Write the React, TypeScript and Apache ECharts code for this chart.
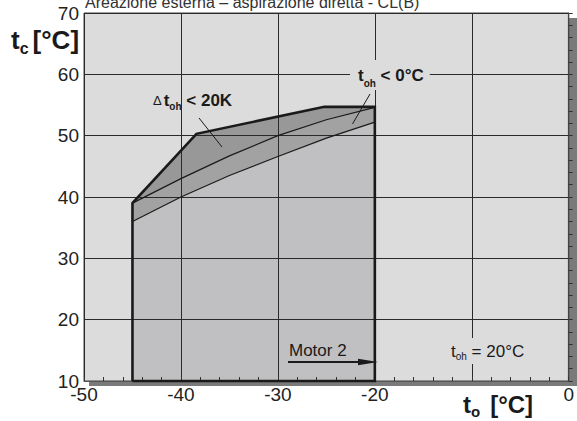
import React, { useEffect, useRef } from 'react';
import * as echarts from 'echarts';

const FONT = "'Liberation Sans', Arial, Helvetica, sans-serif";

const xRange = [-50, 0];
const yRange = [10, 70];
const hiddenXLabels = [-10];

const envelope = [
  [-45, 10], [-45, 39], [-38.4, 50.3], [-25.2, 54.7], [-20, 54.7], [-20, 10],
];
const topEdge = [[-45, 39], [-38.4, 50.3], [-25.2, 54.7], [-20, 54.7]];
const middleCurve = [[-45, 39], [-40, 43], [-35, 46.7], [-30, 50], [-25, 52.6], [-20, 54.6]];
const lowerCurve = [[-45, 36], [-40, 40], [-35, 43.5], [-30, 46.6], [-25, 49.6], [-20, 52.2]];

const titleText = 'Areazione esterna – aspirazione diretta - CL(B)';

function polySeries(pts: number[][], fill: string, z: number) {
  return {
    type: 'custom',
    z,
    silent: true,
    clip: true,
    data: pts,
    encode: { x: 0, y: 1 },
    renderItem: (params: any, api: any) => {
      if (params.dataIndex !== 0) return null;
      const points = pts.map((p) => api.coord(p));
      return { type: 'polygon', shape: { points }, style: { fill, stroke: 'none' } };
    },
  };
}

function lineSeries(pts: number[][], width: number, z: number) {
  return {
    type: 'line',
    z,
    silent: true,
    clip: false,
    data: pts,
    showSymbol: false,
    symbol: 'none',
    lineStyle: { color: '#1a1a1a', width, join: 'miter' },
  };
}

export default function App() {
  const ref = useRef<HTMLDivElement>(null);
  useEffect(() => {
    document.body.style.margin = '0';
    const chart = echarts.init(ref.current!, undefined, { renderer: 'svg' });
    const upperRegion = [...topEdge, ...[...middleCurve].reverse()];
    const band = [...middleCurve, ...[...lowerCurve].reverse()];
    const outline = [...envelope, envelope[0]];
    chart.setOption({
      animation: false,
      grid: {
        left: 84, right: 2.5, top: 13, bottom: 40,
        show: true, backgroundColor: '#dcdcdc', borderColor: '#444', borderWidth: 1,
      },
      xAxis: {
        type: 'value', min: xRange[0], max: xRange[1], interval: 10, z: 3,
        axisLine: { show: true, lineStyle: { color: '#555', width: 1 } },
        axisTick: { show: true, inside: true, length: 4, lineStyle: { color: '#333' } },
        minorTick: { show: true, splitNumber: 5, length: 4, lineStyle: { color: '#333' } },
        splitLine: { show: true, lineStyle: { color: '#2a2a2a', width: 1 } },
        axisLabel: {
          margin: 7, fontSize: 19, lineHeight: 13, color: '#222', fontFamily: FONT,
          showMaxLabel: true, showMinLabel: true,
          formatter: (v: number) => (hiddenXLabels.includes(v) ? '' : String(v)),
        },
      },
      yAxis: {
        type: 'value', min: yRange[0], max: yRange[1], interval: 10, z: 3,
        axisLine: { show: true, lineStyle: { color: '#444', width: 1.2 } },
        axisTick: { show: true, inside: true, length: 4, lineStyle: { color: '#333' } },
        minorTick: { show: true, splitNumber: 5, length: 4, lineStyle: { color: '#333' } },
        splitLine: { show: true, lineStyle: { color: '#2a2a2a', width: 1 } },
        axisLabel: { margin: 5, fontSize: 19, lineHeight: 13, color: '#222', fontFamily: FONT },
      },
      series: [
        polySeries(envelope, '#c0c0c2', 1),
        polySeries(band, '#a2a2a2', 1),
        polySeries(upperRegion, '#989898', 1),
        lineSeries(middleCurve, 1.2, 5),
        lineSeries(lowerCurve, 1.2, 5),
        lineSeries(outline, 2.6, 6),
      ],
      graphic: [
        { type: 'rect', z: -10, shape: { x: 89, y: 18, width: 490, height: 368 }, style: { fill: '#7a7a7a' } },
        {
          type: 'text', z: 10, x: 85, y: 10,
          style: { text: titleText, fontSize: 16, fontFamily: FONT, fill: '#333', verticalAlign: 'bottom', align: 'left' },
        },
        {
          type: 'text', z: 10, x: 11, y: 24,
          style: {
            text: '{t|t}{s|c}{u|[°C]}', fontFamily: FONT, fill: '#1a1a1a', align: 'left', verticalAlign: 'top',
            rich: {
              t: { fontSize: 26, fontWeight: 'bold', lineHeight: 32, fontFamily: FONT, fill: '#1a1a1a' },
              s: { fontSize: 16, fontWeight: 'bold', lineHeight: 16, verticalAlign: 'bottom', fontFamily: FONT, fill: '#1a1a1a' },
              u: { fontSize: 26, fontWeight: 'bold', lineHeight: 32, padding: [0, 0, 0, 4], fontFamily: FONT, fill: '#1a1a1a' },
            },
          },
        },
        {
          type: 'text', z: 10, x: 463, y: 389,
          style: {
            text: '{t|t}{s|o}{u|[°C]}', fontFamily: FONT, fill: '#1a1a1a', align: 'left', verticalAlign: 'top',
            rich: {
              t: { fontSize: 24, fontWeight: 'bold', lineHeight: 30, fontFamily: FONT, fill: '#1a1a1a' },
              s: { fontSize: 15, fontWeight: 'bold', lineHeight: 15, verticalAlign: 'bottom', fontFamily: FONT, fill: '#1a1a1a' },
              u: { fontSize: 24, fontWeight: 'bold', lineHeight: 30, padding: [0, 0, 0, 10], fontFamily: FONT, fill: '#1a1a1a' },
            },
          },
        },
        {
          type: 'text', z: 10, x: 153, y: 89,
          style: {
            text: '{d|Δ}{t|t}{s|oh}{m| < 20K}', fontFamily: FONT, align: 'left', verticalAlign: 'top',
            rich: {
              d: { fontSize: 13, lineHeight: 22, padding: [0, 2, 0, 0], fontFamily: FONT, fill: '#1a1a1a' },
              t: { fontSize: 17, fontWeight: 'bold', lineHeight: 22, fontFamily: FONT, fill: '#1a1a1a' },
              s: { fontSize: 10, fontWeight: 'bold', lineHeight: 10, verticalAlign: 'bottom', fontFamily: FONT, fill: '#1a1a1a' },
              m: { fontSize: 17, fontWeight: 'bold', lineHeight: 22, fontFamily: FONT, fill: '#1a1a1a' },
            },
          },
        },
        {
          type: 'text', z: 10, x: 350, y: 60,
          style: {
            text: '{t|t}{s|oh}{m| < 0°C}', fontFamily: FONT, align: 'left', verticalAlign: 'top',
            backgroundColor: '#dcdcdc', padding: [2, 6, 2, 8],
            rich: {
              t: { fontSize: 17, fontWeight: 'bold', lineHeight: 26, fontFamily: FONT, fill: '#1a1a1a' },
              s: { fontSize: 10, fontWeight: 'bold', lineHeight: 10, verticalAlign: 'bottom', fontFamily: FONT, fill: '#1a1a1a' },
              m: { fontSize: 17, fontWeight: 'bold', lineHeight: 26, fontFamily: FONT, fill: '#1a1a1a' },
            },
          },
        },
        {
          type: 'text', z: 10, x: 447, y: 338,
          style: {
            text: '{t|t}{s|oh}{m| = 20°C}', fontFamily: FONT, align: 'left', verticalAlign: 'top',
            backgroundColor: '#dcdcdc', padding: [3, 4, 3, 4],
            rich: {
              t: { fontSize: 17, lineHeight: 20, fontFamily: FONT, fill: '#1a1a1a' },
              s: { fontSize: 10, lineHeight: 10, verticalAlign: 'bottom', fontFamily: FONT, fill: '#1a1a1a' },
              m: { fontSize: 17, lineHeight: 20, fontFamily: FONT, fill: '#1a1a1a' },
            },
          },
        },
        {
          type: 'text', z: 10, x: 289, y: 350,
          style: { text: 'Motor 2', fontSize: 17, fontFamily: FONT, fill: '#1a1a1a', align: 'left', verticalAlign: 'middle' },
        },
        { type: 'line', z: 10, shape: { x1: 288, y1: 362, x2: 362, y2: 362 }, style: { stroke: '#1a1a1a', lineWidth: 2 } },
        { type: 'polygon', z: 10, shape: { points: [[358, 358.8], [378, 362], [358, 365.2]] }, style: { fill: '#1a1a1a' } },
        { type: 'line', z: 10, shape: { x1: 199, y1: 118, x2: 222, y2: 147 }, style: { stroke: '#1a1a1a', lineWidth: 1 } },
        { type: 'line', z: 10, shape: { x1: 370, y1: 94, x2: 352.5, y2: 124 }, style: { stroke: '#1a1a1a', lineWidth: 1 } },
      ],
    });
    return () => chart.dispose();
  }, []);
  return <div ref={ref} style={{ width: 577, height: 421 }} />;
}
